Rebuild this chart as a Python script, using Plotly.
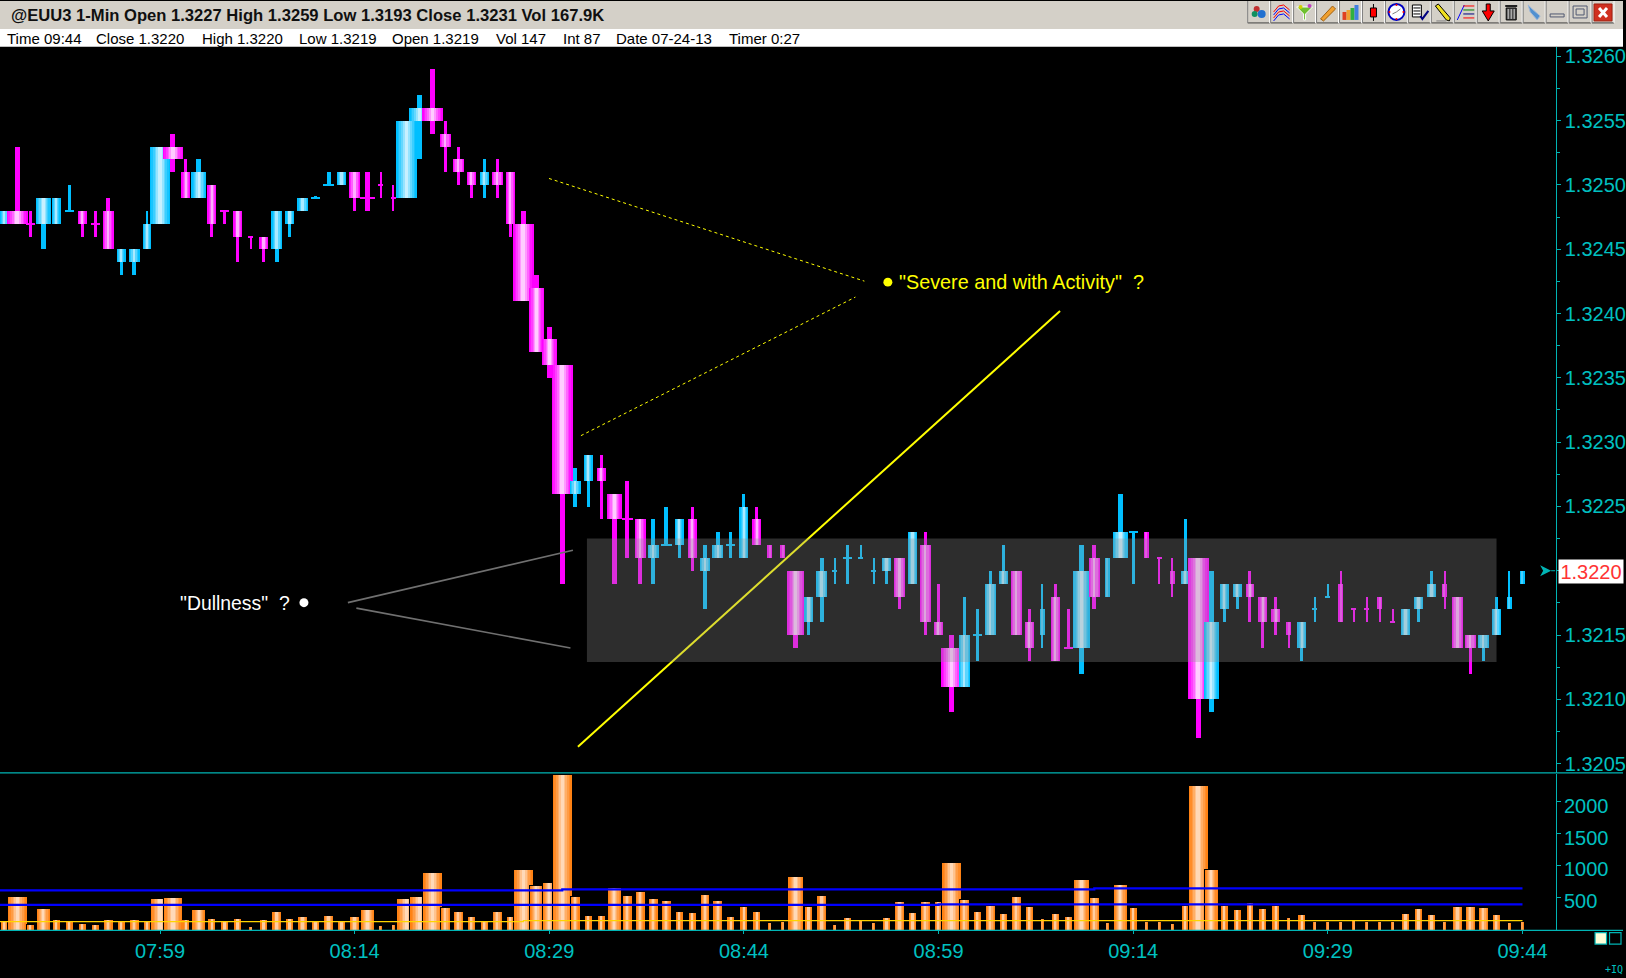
import numpy as np
import plotly.graph_objects as go

W, H = 1626, 978
BASE = 1.32
# prices are stored as pips above 1.3200, one list per OHLC field
open_pips = [47,48,47,47,47,48,48,47,48,44,44,45,47,53,51,49,50,48,48,46,46,45,47,48,49,50,50,51,49,50,49,49,55,56,54,52,51,50,51,51,47,42,38,36,26,27,28,26,24,24,21,22,22,24,20,21,22,21,24,22,22,20,16,18,20,21,21,20,20,21,19,22,16,14,11,15,15,19,20,16,15,18,14,14,21,18,21,23,23,21,20,19,21,10,17,18,19,18,17,16,14,17,18,19,17,17,18,16,15,17,18,19,18,15,14,15,17,19]
close_pips = [48,47,47,49,49,48,47,47,45,45,45,47,53,52,49,51,47,48,46,46,45,48,48,49,49,50,51,49,49,50,49,55,56,55,53,51,50,51,50,47,41,37,36,26,27,29,27,24,24,21,22,22,24,21,21,22,22,25,22,21,21,15,18,20,20,21,21,20,21,18,23,16,15,11,15,15,19,20,15,14,17,13,14,20,18,21,23,23,21,21,19,20,10,16,19,19,18,16,16,15,16,17,18,16,17,17,17,16,17,18,19,18,14,14,15,17,18,20]
high_pips = [48,53,48,49,49,50,48,48,49,45,45,48,53,54,52,52,50,48,48,46,46,48,48,49,49,51,51,51,51,51,50,55,57,59,55,53,51,52,52,51,48,43,39,36,28,29,29,26,27,24,24,25,24,25,22,23,23,26,25,22,22,20,18,21,21,22,22,21,21,21,23,23,19,15,18,17,20,22,20,17,19,19,17,22,22,21,26,23,23,21,21,24,21,20,19,19,20,18,18,16,16,18,19,20,17,18,18,17,17,18,20,20,18,15,15,18,20,20]
low_pips = [47,47,46,45,47,48,46,46,45,43,43,45,47,51,49,49,46,47,44,45,44,44,46,48,49,50,50,48,48,49,48,49,52,54,51,50,49,49,49,46,41,37,35,19,25,25,24,19,21,19,19,22,21,20,17,21,21,21,22,21,21,14,15,16,19,19,21,19,19,17,19,15,15,9,11,13,15,19,15,13,14,13,14,12,17,18,21,19,21,19,18,19,7,9,16,17,16,14,15,14,13,16,18,16,16,16,16,16,15,16,18,17,14,12,13,15,17,19]
volume = [140,515,78,328,156,140,94,78,156,120,156,140,484,499,156,312,172,120,172,47,156,281,172,203,120,218,140,203,312,62,78,484,515,889,343,281,203,120,281,203,936,686,733,2418,515,218,218,655,530,593,484,452,281,265,546,452,203,359,281,109,125,827,359,530,78,187,156,109,187,437,265,437,437,1045,468,281,374,250,515,359,172,250,203,780,499,109,702,343,125,125,94,374,2246,936,374,312,421,328,374,187,234,125,125,125,156,125,125,125,250,328,234,125,359,359,343,234,109,125]
# chart encodes a second activity dimension as column width
activity_width = [7,19,7,13,7,7,7,7,9,7,9,6,19,19,7,13,7,7,7,3,7,9,7,9,7,9,7,9,13,3,3,19,19,19,9,9,7,7,9,7,19,13,13,19,9,7,7,13,9,9,9,9,7,7,9,9,7,7,7,3,3,15,7,9,3,7,3,3,7,9,7,9,7,19,9,7,9,7,9,7,3,7,7,15,9,3,13,7,3,3,3,7,19,13,7,7,7,7,7,3,7,3,3,3,3,3,3,3,7,7,7,3,9,9,9,7,3,3]
doji_up_bars = [5,24,25,51,56,64,65,66,67,75,87,101,102]
x_tick_bars = [12,27,42,57,72,87,102,117]
x_tick_labels = ["07:59","08:14","08:29","08:44","08:59","09:14","09:29","09:44"]
price_ticks = [1.3205,1.3210,1.3215,1.3220,1.3225,1.3230,1.3235,1.3240,1.3245,1.3250,1.3255,1.3260]
vol_ticks = [500,1000,1500,2000]
upper_band_x = [-1,43,84,117]
upper_band_y = [608,624,640,640]
lower_band_x = [-1,72,117]
lower_band_y = [380,390,390]
avg_x = [-1,40,117]
avg_y = [120,135,135]
last_price = "1.3220"

TEAL = "#00b4b4"
TEAL_TXT = "#00c0c0"
PX = 13.0


def fx(x):
    return x / W


def fy(y):
    return 1 - y / H


def mix(a, b, t):
    return "rgb(%d,%d,%d)" % tuple(round(a[k] + (b[k] - a[k]) * t) for k in range(3))


MAG = ((255, 0, 255), (255, 205, 255))
CYA = ((0, 191, 255), (200, 240, 255))
ORG = ((255, 130, 20), (255, 217, 184))


def stripes(width):
    """Pixel widths and tints of the horizontal shading for one column."""
    if width <= 5.5:
        return [(width, 0), (1.4, .35)]
    if width <= 11.5:
        return [(width, 0), (width - 2.5, .2), (width - 4.5, .45), (1.8, .85)]
    return [(width * f, m) for f, m in zip([1, .84, .68, .5, .34, .18], [0, .12, .3, .5, .75, 1])]


# candle bars, flattened so later candles overpaint earlier ones
cx, cb, cy, cw, cc = [], [], [], [], []
for i in range(len(open_pips)):
    o, c, h, l = open_pips[i], close_pips[i], high_pips[i], low_pips[i]
    up = c > o or (c == o and i in doji_up_bars)
    pal = CYA if up else MAG
    w = activity_width[i]
    wick = float(np.interp(w, [3, 7, 13, 19], [1.2, 3, 5, 5]))
    cx.append(i); cb.append(BASE + l / 1e4); cy.append(max(h - l, .08) / 1e4)
    cw.append(wick / PX); cc.append(mix(pal[0], pal[1], 0))
    lo, hi = min(o, c), max(o, c)
    if o == c:
        lo, hi = o - .04, o + .04
    layers = [(w + 2, 0)] if o == c else stripes(w + 2)
    for pw, m in layers:
        cx.append(i); cb.append(BASE + lo / 1e4); cy.append((hi - lo) / 1e4)
        cw.append(pw / PX); cc.append(mix(pal[0], pal[1], m))

vx, vy, vw, vc = [], [], [], []
for i, v in enumerate(volume):
    w = activity_width[i]
    vx.append(i); vy.append(v + 10); vw.append((w + 1.5) / PX); vc.append("#000000")
    for pw, m in stripes(w):
        vx.append(i); vy.append(v); vw.append(pw / PX); vc.append(mix(ORG[0], ORG[1], m))

fig = go.Figure()
fig.add_bar(x=cx, y=cy, base=cb, width=cw, marker=dict(color=cc, line_width=0), xaxis="x", yaxis="y", hoverinfo="skip", showlegend=False)
fig.add_bar(x=vx, y=vy, width=vw, marker=dict(color=vc, line_width=0), xaxis="x2", yaxis="y2", hoverinfo="skip", showlegend=False)
for xs, ys, col, lw in [(upper_band_x, upper_band_y, "#0000ff", 2.2), (lower_band_x, lower_band_y, "#0000ff", 2.2), (avg_x, avg_y, "#ffd400", 1.2)]:
    fig.add_scatter(x=xs, y=ys, mode="lines", line=dict(color=col, width=lw, shape="hv"), xaxis="x2", yaxis="y2", hoverinfo="skip", showlegend=False)

shapes = []


def rect(x0, y0, x1, y1, fill, line=None, lw=0):
    shapes.append(dict(type="rect", xref="paper", yref="paper", x0=fx(x0), x1=fx(x1), y0=fy(y0), y1=fy(y1), fillcolor=fill, line=dict(color=line or fill, width=lw)))


def seg(x0, y0, x1, y1, col, lw=1, dash="solid"):
    shapes.append(dict(type="line", xref="paper", yref="paper", x0=fx(x0), x1=fx(x1), y0=fy(y0), y1=fy(y1), line=dict(color=col, width=lw, dash=dash)))


def poly(pts, fill=None, line=None, lw=0, close=True):
    d = "M" + " L".join("%.5f,%.5f" % (fx(a), fy(b)) for a, b in pts) + (" Z" if close else "")
    shapes.append(dict(type="path", xref="paper", yref="paper", path=d, fillcolor=fill or "rgba(0,0,0,0)", line=dict(color=line or "rgba(0,0,0,0)", width=lw)))


def circ(cx_, cy_, r, fill, line=None, lw=0):
    shapes.append(dict(type="circle", xref="paper", yref="paper", x0=fx(cx_ - r), x1=fx(cx_ + r), y0=fy(cy_ - r), y1=fy(cy_ + r), fillcolor=fill, line=dict(color=line or fill, width=lw)))


# header strips
rect(0, 0, W, 28, "#d4d0c8")
rect(0, 28, W, 46, "#ffffff")

# toolbar
for k in range(16):
    bx = 1250 + 23 * k
    rect(bx, 0, bx + 22, 22, "#d4d0c8")
    seg(bx, 22, bx + 22, 22, "#404040", 1)
    seg(bx, 0, bx, 22, "#808080", 1)
    seg(bx + 22, 0, bx + 22, 22, "#ffffff", 1)
b = lambda k: 1250 + 23 * k
circ(b(0) + 9, 8, 3, "#c03030"); circ(b(0) + 7, 13, 3, "#109060"); circ(b(0) + 14, 13, 4, "#2070d0")
for yy, col in [(8, "#ff0000"), (11, "#0000ff"), (14, "#ff0000"), (17, "#0000ff")]:
    poly([(b(1) + 3, yy + 3), (b(1) + 8, yy - 3), (b(1) + 13, yy - 4), (b(1) + 19, yy + 1)], line=col, lw=1, close=False)
poly([(b(2) + 3, 6), (b(2) + 19, 6), (b(2) + 12, 13), (b(2) + 12, 19), (b(2) + 10, 19), (b(2) + 10, 13)], fill="#70c030", line="#ffffff", lw=1)
circ(b(2) + 7, 6, 2, "#d0d000"); circ(b(2) + 16, 5, 2, "#c040c0")
poly([(b(3) + 4, 18), (b(3) + 16, 5), (b(3) + 19, 8), (b(3) + 7, 20)], fill="#f0a030", line="#a06010", lw=1)
for off, top, col in [(3, 11, "#e04020"), (7, 9, "#f0a030"), (11, 7, "#30b040"), (15, 4, "#4080e0")]:
    rect(b(4) + off, top, b(4) + off + 4, 19, col)
seg(b(5) + 11, 3, b(5) + 11, 20, "#000000", 1)
rect(b(5) + 8, 7, b(5) + 14, 16, "#ff0000", "#000000", 1)
circ(b(6) + 11, 11, 8, "#ffffff", "#0000c0", 2)
seg(b(6) + 11, 11, b(6) + 15, 8, "#808080", 1); seg(b(6) + 11, 11, b(6) + 7, 13, "#808080", 1)
circ(b(6) + 11, 4, 1, "#ff0000"); circ(b(6) + 11, 18, 1, "#ff0000"); circ(b(6) + 4, 11, 1, "#ff0000"); circ(b(6) + 18, 11, 1, "#ff0000")
rect(b(7) + 4, 4, b(7) + 13, 16, "#ffffff", "#000000", 1)
for yy in (7, 10, 13):
    seg(b(7) + 5, yy, b(7) + 12, yy, "#000000", 1)
poly([(b(7) + 12, 15), (b(7) + 14, 18), (b(7) + 20, 10)], line="#000080", lw=2, close=False)
poly([(b(8) + 4, 5), (b(8) + 7, 3), (b(8) + 19, 17), (b(8) + 18, 20), (b(8) + 15, 19)], fill="#f0e020", line="#000000", lw=1)
seg(b(8) + 5, 20, b(8) + 15, 20, "#808080", 1)
seg(b(9) + 3, 19, b(9) + 10, 4, "#0000ff", 1)
for yy, col in [(5, "#ff0000"), (9, "#008000"), (13, "#000080"), (17, "#ff0000")]:
    seg(b(9) + 9, yy, b(9) + 20, yy, col, 1)
poly([(b(10) + 9, 3), (b(10) + 13, 3), (b(10) + 13, 10), (b(10) + 17, 10), (b(10) + 11, 20), (b(10) + 5, 10), (b(10) + 9, 10)], fill="#ff0000", line="#000000", lw=1)
rect(b(11) + 6, 7, b(11) + 16, 19, "#505050", "#000000", 1)
rect(b(11) + 5, 4, b(11) + 17, 6, "#202020")
for off in (8, 11, 14):
    seg(b(11) + off, 8, b(11) + off, 18, "#d0d0d0", 1)
poly([(b(12) + 5, 4), (b(12) + 9, 8), (b(12) + 17, 15), (b(12) + 14, 19), (b(12) + 7, 11)], fill="#5090d0", line="#a0b8d8", lw=1)
rect(b(13) + 4, 13, b(13) + 18, 16, "#d4d0c8", "#505870", 1)
rect(b(14) + 4, 5, b(14) + 18, 17, "#d4d0c8", "#505870", 1)
rect(b(14) + 7, 8, b(14) + 15, 14, "#d4d0c8", "#505870", 1)
rect(b(15) + 2, 3, b(15) + 20, 20, "#d03020", "#a02010", 1)
seg(b(15) + 7, 7, b(15) + 15, 16, "#ffffff", 3); seg(b(15) + 15, 7, b(15) + 7, 16, "#ffffff", 3)

# pane dividers and annotation drawings
seg(0, 774.3, W, 774.3, TEAL, 1.2)
seg(0, 932.3, W, 932.3, TEAL, 1.2)
seg(550, 178, 866, 281, "#ffff00", 1, "3px,3px")
seg(582, 436, 857, 297, "#ffff00", 1, "3px,3px")
seg(579, 748, 1062, 311, "#ffff00", 2)
seg(348.5, 603.5, 574, 551, "#707070", 1.6)
seg(357, 609, 571.5, 649, "#707070", 1.6)
circ(889.5, 282, 4.5, "#ffff00")
circ(304.5, 603.5, 4.5, "#ffffff")

# translucent range band drawn over candles and trend line
shapes.append(dict(type="rect", xref="x", yref="y", x0=44.9, x1=115.0, y0=BASE + 12.9 / 1e4, y1=BASE + 22.5 / 1e4, fillcolor="rgba(145,145,145,0.31)", line_width=0, layer="above"))

# current price arrow
poly([(1543, 566), (1554, 571.5), (1543, 577), (1546, 571.5)], fill=TEAL)
seg(1554, 571.5, 1558, 571.5, TEAL, 1)
# corner boxes
rect(1598, 934.5, 1609.5, 946, "#ffffd8", TEAL, 1.2)
rect(1612.5, 934.5, 1624, 946, "#000000", TEAL, 1.2)

ann = []


def text(s, x, y, size, col, font="Liberation Sans", anchor="left"):
    ann.append(dict(text=s, x=fx(x), y=fy(y), xref="paper", yref="paper", xanchor=anchor, yanchor="middle", showarrow=False, font=dict(family=font, size=size, color=col)))


text("<b>@EUU3 1-Min Open 1.3227 High 1.3259 Low 1.3193 Close 1.3231 Vol 167.9K</b>", 9, 15, 16.6, "#101010")
for s, x in [("Time 09:44", 5), ("Close 1.3220", 94), ("High 1.3220", 200), ("Low 1.3219", 298), ("Open 1.3219", 391), ("Vol 147", 495), ("Int 87", 562), ("Date 07-24-13", 615), ("Timer 0:27", 728)]:
    text(s, x, 38, 15, "#000000")
text('"Severe and with Activity"  ?', 899, 282, 19.8, "#ffff00")
text('"Dullness"  ?', 178, 603.5, 19.4, "#ffffff")
text("+IQ", 1606, 971, 10, TEAL_TXT, "DejaVu Sans Mono")
ann.append(dict(text=last_price, x=fx(1594), y=fy(572.5), xref="paper", yref="paper", xanchor="center", yanchor="middle", showarrow=False, bgcolor="#ffffff", borderpad=0, font=dict(family="Liberation Sans", size=20, color="#ff3333"), width=64, height=23))
for v in vol_ticks:
    ann.append(dict(text=str(v), x=fx(1565), y=v, xref="paper", yref="y2", xanchor="left", yanchor="middle", yshift=-4, xshift=0, showarrow=False, font=dict(family="Liberation Sans", size=20, color=TEAL_TXT)))

x_range = [-4.3 / PX, (1558.4 - 4.3) / PX]
fig.update_layout(
    width=W, height=H, margin=dict(l=0, r=0, t=0, b=0), autosize=False,
    paper_bgcolor="#000000", plot_bgcolor="#000000", barmode="overlay", bargap=0,
    shapes=shapes, annotations=ann, showlegend=False,
    xaxis=dict(domain=[0, 1558.4 / W], range=x_range, showticklabels=False, showgrid=False, zeroline=False, ticks="", anchor="y"),
    yaxis=dict(domain=[fy(774), fy(46)], range=[BASE + 4.3 / 1e4, BASE + 60.74 / 1e4], side="right", anchor="x", tickmode="array", tickvals=price_ticks,
               ticktext=["" if "%.4f" % p == last_price else "%.4f" % p for p in price_ticks],
               showgrid=False, zeroline=False, showline=True, linecolor=TEAL, linewidth=1.4, ticks="outside", ticklen=4, tickcolor=TEAL,
               minor=dict(dtick=0.00025, tick0=1.32, ticks="outside", ticklen=3, tickcolor=TEAL, showgrid=False),
               tickfont=dict(family="Liberation Sans", size=20, color=TEAL_TXT)),
    xaxis2=dict(domain=[0, 1558.4 / W], range=x_range, anchor="y2", tickmode="array", tickvals=x_tick_bars, ticktext=x_tick_labels, showgrid=False, zeroline=False,
                showline=True, linecolor=TEAL, linewidth=1.4, ticks="outside", ticklen=3, tickcolor=TEAL,
                tickfont=dict(family="Liberation Sans", size=20, color=TEAL_TXT)),
    yaxis2=dict(domain=[fy(932), fy(775)], range=[-15, 2440], side="right", anchor="x2", tickmode="array", tickvals=vol_ticks, showticklabels=False, showgrid=False, zeroline=False,
                showline=True, linecolor=TEAL, linewidth=1.4, ticks="outside", ticklen=4, tickcolor=TEAL),
)

fig.write_html("out.html", config={"displayModeBar": False},
               post_script="document.documentElement.style.overflow='hidden';document.body.style.overflow='hidden';document.body.style.margin='0';document.body.style.background='#000';")
